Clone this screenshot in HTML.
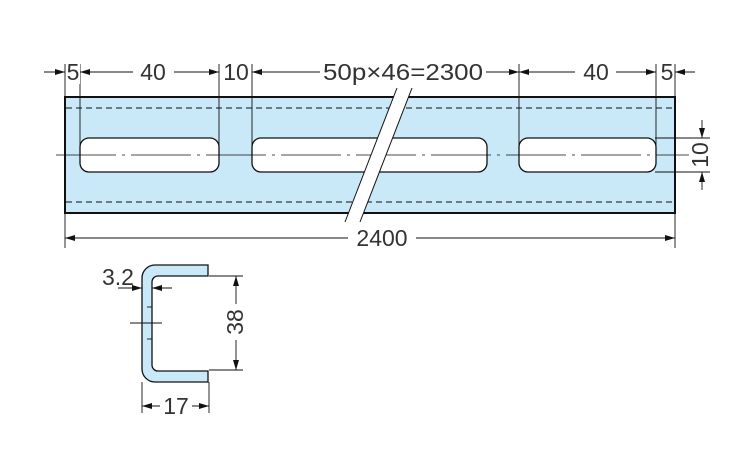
<!DOCTYPE html><html><head><meta charset="utf-8"><style>body{margin:0;background:#fff}svg{display:block}text{font-family:"Liberation Sans",sans-serif;fill:#333;font-size:23px}</style></head><body>
<svg width="750" height="450" viewBox="0 0 750 450" xmlns="http://www.w3.org/2000/svg">
<defs><marker id="a" viewBox="0 0 10 6" refX="10" refY="3" markerWidth="10" markerHeight="6" orient="auto-start-reverse" markerUnits="userSpaceOnUse"><path d="M0,0L10,3L0,6z" fill="#111"/></marker></defs>
<rect x="65" y="97" width="610" height="116" fill="#c9e8f8" stroke="#111" stroke-width="2"/>
<g stroke="#111" stroke-width="1" stroke-dasharray="6,4"><line x1="66" y1="108" x2="674" y2="108"/><line x1="66" y1="202" x2="674" y2="202"/></g>
<g fill="#fff" stroke="#111" stroke-width="1.3"><rect x="80" y="138" width="139" height="34" rx="9"/><rect x="252" y="138" width="235" height="34" rx="9"/><rect x="519" y="138" width="137" height="34" rx="9"/></g>
<line x1="56" y1="155" x2="690" y2="155" stroke="#111" stroke-width="0.8" stroke-dasharray="60,6,3,6"/>
<polygon points="397,88 412,88 360,222 345,222" fill="#fff"/>
<g stroke="#111" stroke-width="1"><line x1="397" y1="88" x2="345" y2="222"/><line x1="412" y1="88" x2="360" y2="222"/></g>
<g stroke="#111" stroke-width="0.9">
<line x1="65" y1="64" x2="65" y2="248"/><line x1="675" y1="64" x2="675" y2="248"/>
<line x1="80" y1="64" x2="80" y2="155"/><line x1="219" y1="64" x2="219" y2="155"/><line x1="252" y1="64" x2="252" y2="155"/><line x1="519" y1="64" x2="519" y2="155"/><line x1="656" y1="64" x2="656" y2="155"/>
<line x1="44" y1="72" x2="65" y2="72" marker-end="url(#a)"/><line x1="80" y1="72" x2="219" y2="72" marker-start="url(#a)" marker-end="url(#a)"/>
<line x1="252" y1="72" x2="519" y2="72" marker-start="url(#a)" marker-end="url(#a)"/>
<line x1="519" y1="72" x2="656" y2="72" marker-start="url(#a)" marker-end="url(#a)"/><line x1="695" y1="72" x2="675" y2="72" marker-end="url(#a)"/>
<line x1="65" y1="238" x2="675" y2="238" marker-start="url(#a)" marker-end="url(#a)"/>
<line x1="655" y1="138" x2="710" y2="138"/><line x1="655" y1="172" x2="710" y2="172"/>
<line x1="702" y1="120" x2="702" y2="138" marker-end="url(#a)"/><line x1="702" y1="190" x2="702" y2="172" marker-end="url(#a)"/>
</g>
<g text-anchor="middle">
<rect x="67" y="60" width="13" height="24" fill="#fff"/><text x="73" y="80">5</text>
<rect x="133" y="60" width="41" height="24" fill="#fff"/><text x="153" y="80">40</text>
<rect x="221" y="60" width="30" height="24" fill="#fff"/><text x="236" y="80">10</text>
<rect x="320" y="60" width="166" height="24" fill="#fff"/><text x="403" y="80" textLength="160" lengthAdjust="spacingAndGlyphs">50p×46=2300</text>
<rect x="575" y="60" width="41" height="24" fill="#fff"/><text x="596" y="80">40</text>
<rect x="660" y="60" width="13" height="24" fill="#fff"/><text x="667" y="80">5</text>
<rect x="348" y="226" width="68" height="24" fill="#fff"/><text x="382" y="246">2400</text>
<rect x="689" y="141" width="22" height="28" fill="#fff"/><text transform="translate(708,155) rotate(-90)">10</text>
</g>
<path d="M208,265 H155 A13,13 0 0 0 142,278 V369 A13,13 0 0 0 155,382 H208 V371 H158 A6,6 0 0 1 152,365 V282 A6,6 0 0 1 158,276 H208 Z" fill="#c9e8f8" stroke="#111" stroke-width="1.3"/>
<g stroke="#111" stroke-width="0.9">
<line x1="147" y1="307" x2="152" y2="307"/><line x1="147" y1="339" x2="152" y2="339"/>
<line x1="130" y1="323" x2="162" y2="323"/>
<line x1="209" y1="276" x2="243" y2="276"/><line x1="209" y1="370" x2="243" y2="370"/>
<line x1="236" y1="276" x2="236" y2="370" marker-start="url(#a)" marker-end="url(#a)"/>
<line x1="118" y1="288" x2="142" y2="288" marker-end="url(#a)"/><line x1="172" y1="288" x2="152" y2="288" marker-end="url(#a)"/>
<line x1="142" y1="382" x2="142" y2="413"/><line x1="209" y1="382" x2="209" y2="413"/>
<line x1="142" y1="406" x2="209" y2="406" marker-start="url(#a)" marker-end="url(#a)"/>
</g>
<text x="102" y="285">3.2</text>
<rect x="160" y="394" width="32" height="24" fill="#fff"/><text x="176" y="414" text-anchor="middle">17</text>
<rect x="222" y="304" width="26" height="36" fill="#fff"/><text transform="translate(243,322) rotate(-90)" text-anchor="middle">38</text>
</svg></body></html>
